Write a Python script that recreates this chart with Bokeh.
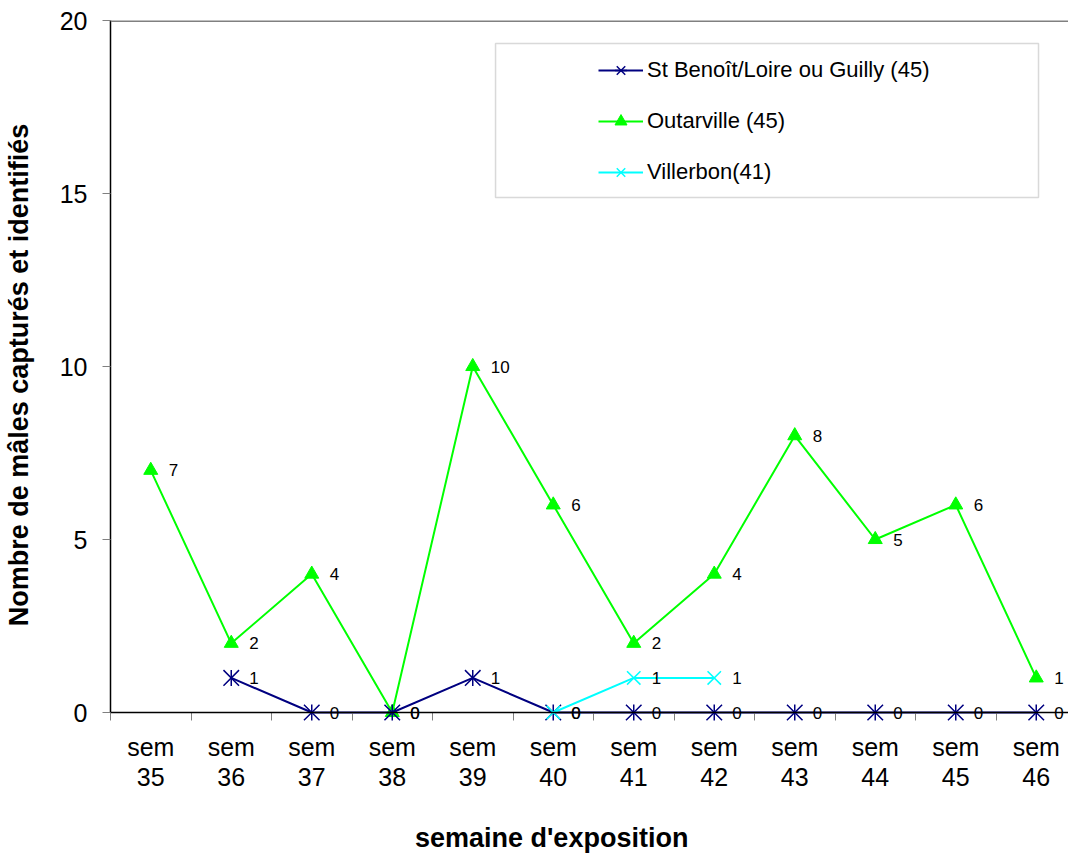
import math
from bokeh.plotting import figure
from bokeh.models import (Range1d, FixedTicker, Span, BoxAnnotation, Legend,
                          LegendItem, LinearAxis, ColumnDataSource)
from bokeh.embed import file_html
from bokeh.resources import INLINE
from bokeh.core.properties import value

# ---------------- data ----------------
weeks = [35, 36, 37, 38, 39, 40, 41, 42, 43, 44, 45, 46]
week_labels = ["sem 35", "sem 36", "sem 37", "sem 38", "sem 39", "sem 40",
               "sem 41", "sem 42", "sem 43", "sem 44", "sem 45", "sem 46"]
NA = float("nan")
st_benoit = [NA, 1, 0, 0, 1, 0, 0, 0, 0, 0, 0, 0]
outarville = [7, 2, 4, 0, 10, 6, 2, 4, 8, 5, 6, 1]
villerbon = [NA, NA, NA, NA, NA, 0, 1, 1, NA, NA, NA, NA]
series_names = ["St Benoît/Loire ou Guilly (45)", "Outarville (45)", "Villerbon(41)"]
y_ticks = [0, 5, 10, 15, 20]
x_title = "semaine d'exposition"
y_title = "Nombre de mâles capturés et identifiés"

FONT = "Liberation Sans"
NAVY = "#000080"
LIME = "#00FF00"
CYAN = "#00FFFF"
GRAY = "#808080"

W, H = 1068, 857
LEFT, TOP = 110, 20
PX_PER_WEEK = 80.5
PX_PER_UNIT = 34.6
PAD_BELOW_ZERO = 17          # px of frame kept below y = 0 so markers are not cut
Y_LOW = -PAD_BELOW_ZERO / PX_PER_UNIT
frame_w = W - LEFT
frame_h = 20 * PX_PER_UNIT + PAD_BELOW_ZERO
frame_bottom = TOP + frame_h
bottom_border = int(round(H - frame_bottom))
X0 = 34.5
x_title_pos = round(X0 + (551 - LEFT) / PX_PER_WEEK, 2)

p = figure(width=W, height=H, output_backend="svg", toolbar_location=None,
           x_range=Range1d(X0, X0 + frame_w / PX_PER_WEEK),
           y_range=Range1d(Y_LOW, 20),
           min_border_left=LEFT, min_border_right=0, min_border_top=TOP,
           min_border_bottom=bottom_border)
p.xgrid.visible = False
p.ygrid.visible = False
p.outline_line_color = None
p.background_fill_color = "white"
p.border_fill_color = "white"

# x axis: line drawn as a span at y = 0, ticks reach up to it
xa = p.xaxis[0]
xa.ticker = FixedTicker(ticks=weeks, minor_ticks=[w - 0.5 for w in weeks] + [weeks[-1] + 0.5])
xa.major_label_overrides = {w: lab.replace(" ", "\n") for w, lab in zip(weeks, week_labels)}
xa.major_tick_line_color = None
xa.major_tick_out = 0
xa.major_tick_in = 0
xa.minor_tick_in = PAD_BELOW_ZERO
xa.minor_tick_out = -PAD_BELOW_ZERO + 8
xa.minor_tick_line_color = GRAY
xa.axis_line_color = None
xa.major_label_text_font = FONT
xa.major_label_text_font_size = "25px"
xa.major_label_text_line_height = 1.1
xa.major_label_text_color = "black"
xa.major_label_standoff = 3

p.add_layout(Span(location=0, dimension="width", line_color="black", line_width=1.5))

# second axis below: carries the x title as its single label
title_axis = LinearAxis(ticker=FixedTicker(ticks=[x_title_pos], minor_ticks=[]),
                        major_label_overrides={x_title_pos: x_title},
                        axis_line_color=None, major_tick_line_color=None,
                        minor_tick_line_color=None, major_tick_out=0, major_tick_in=0,
                        minor_tick_out=0, minor_tick_in=0, major_label_standoff=28,
                        major_label_text_font=FONT, major_label_text_font_size="27px",
                        major_label_text_font_style="bold", major_label_text_color="black")
p.add_layout(title_axis, "below")

# y axis
ya = p.yaxis[0]
ya.bounds = (0, 20)
ya.ticker = FixedTicker(ticks=y_ticks, minor_ticks=[])
ya.major_tick_out = 8
ya.major_tick_in = 0
ya.major_tick_line_color = GRAY
ya.minor_tick_line_color = None
ya.axis_line_color = "black"
ya.axis_line_width = 1.5
ya.major_label_text_font = FONT
ya.major_label_text_font_size = "25px"
ya.major_label_text_color = "black"
ya.major_label_standoff = 15
ya.axis_label = y_title
ya.axis_label_text_font = FONT
ya.axis_label_text_font_size = "27px"
ya.axis_label_text_font_style = "bold"
ya.axis_label_text_color = "black"
ya.axis_label_standoff = 23

# top border
p.add_layout(Span(location=20, dimension="width", line_color=GRAY, line_width=3))

# legend box
p.add_layout(BoxAnnotation(left=39.283, right=46.028, top=19.335, bottom=14.884,
                           fill_color="white", fill_alpha=1.0,
                           line_color=GRAY, line_width=1.5))


def valid(xs, ys):
    pts = [(x, y) for x, y in zip(xs, ys) if not (isinstance(y, float) and math.isnan(y))]
    return [a for a, _ in pts], [b for _, b in pts]


bx, by = valid(weeks, st_benoit)
ox, oy = valid(weeks, outarville)
vx, vy = valid(weeks, villerbon)

l_o = p.line(ox, oy, line_color=LIME, line_width=2)
m_o = p.scatter(ox, oy, marker="triangle", size=14, fill_color=LIME, line_color=LIME)
l_b = p.line(bx, by, line_color=NAVY, line_width=2)
m_b1 = p.scatter(bx, by, marker="x", size=22, line_color=NAVY, line_width=1.5)
m_b2 = p.scatter(bx, by, marker="dash", size=16, angle=math.pi / 2,
                 line_color=NAVY, line_width=1.5)
l_v = p.line(vx, vy, line_color=CYAN, line_width=2)
m_v = p.scatter(vx, vy, marker="x", size=19, line_color=CYAN, line_width=1.5)

for xs, ys in [(ox, oy), (bx, by), (vx, vy)]:
    src = ColumnDataSource(dict(x=xs, y=ys, t=[str(int(v)) for v in ys]))
    p.text("x", "y", text="t", source=src, x_offset=18, text_baseline="middle",
           text_align="left", text_font=value(FONT), text_font_size="17px",
           text_color="black")

legend = Legend(items=[LegendItem(label=series_names[0], renderers=[l_b, m_b1, m_b2]),
                       LegendItem(label=series_names[1], renderers=[l_o, m_o]),
                       LegendItem(label=series_names[2], renderers=[l_v, m_v])],
                location=(488, int(round(frame_bottom - 187))), orientation="vertical",
                glyph_width=45, glyph_height=30, label_height=30, spacing=21,
                padding=0, margin=0, label_standoff=4,
                border_line_color=None, background_fill_alpha=0,
                label_text_font=FONT, label_text_font_size="22px",
                label_text_color="black")
p.add_layout(legend)

open("out.html", "w").write(file_html(p, INLINE))
